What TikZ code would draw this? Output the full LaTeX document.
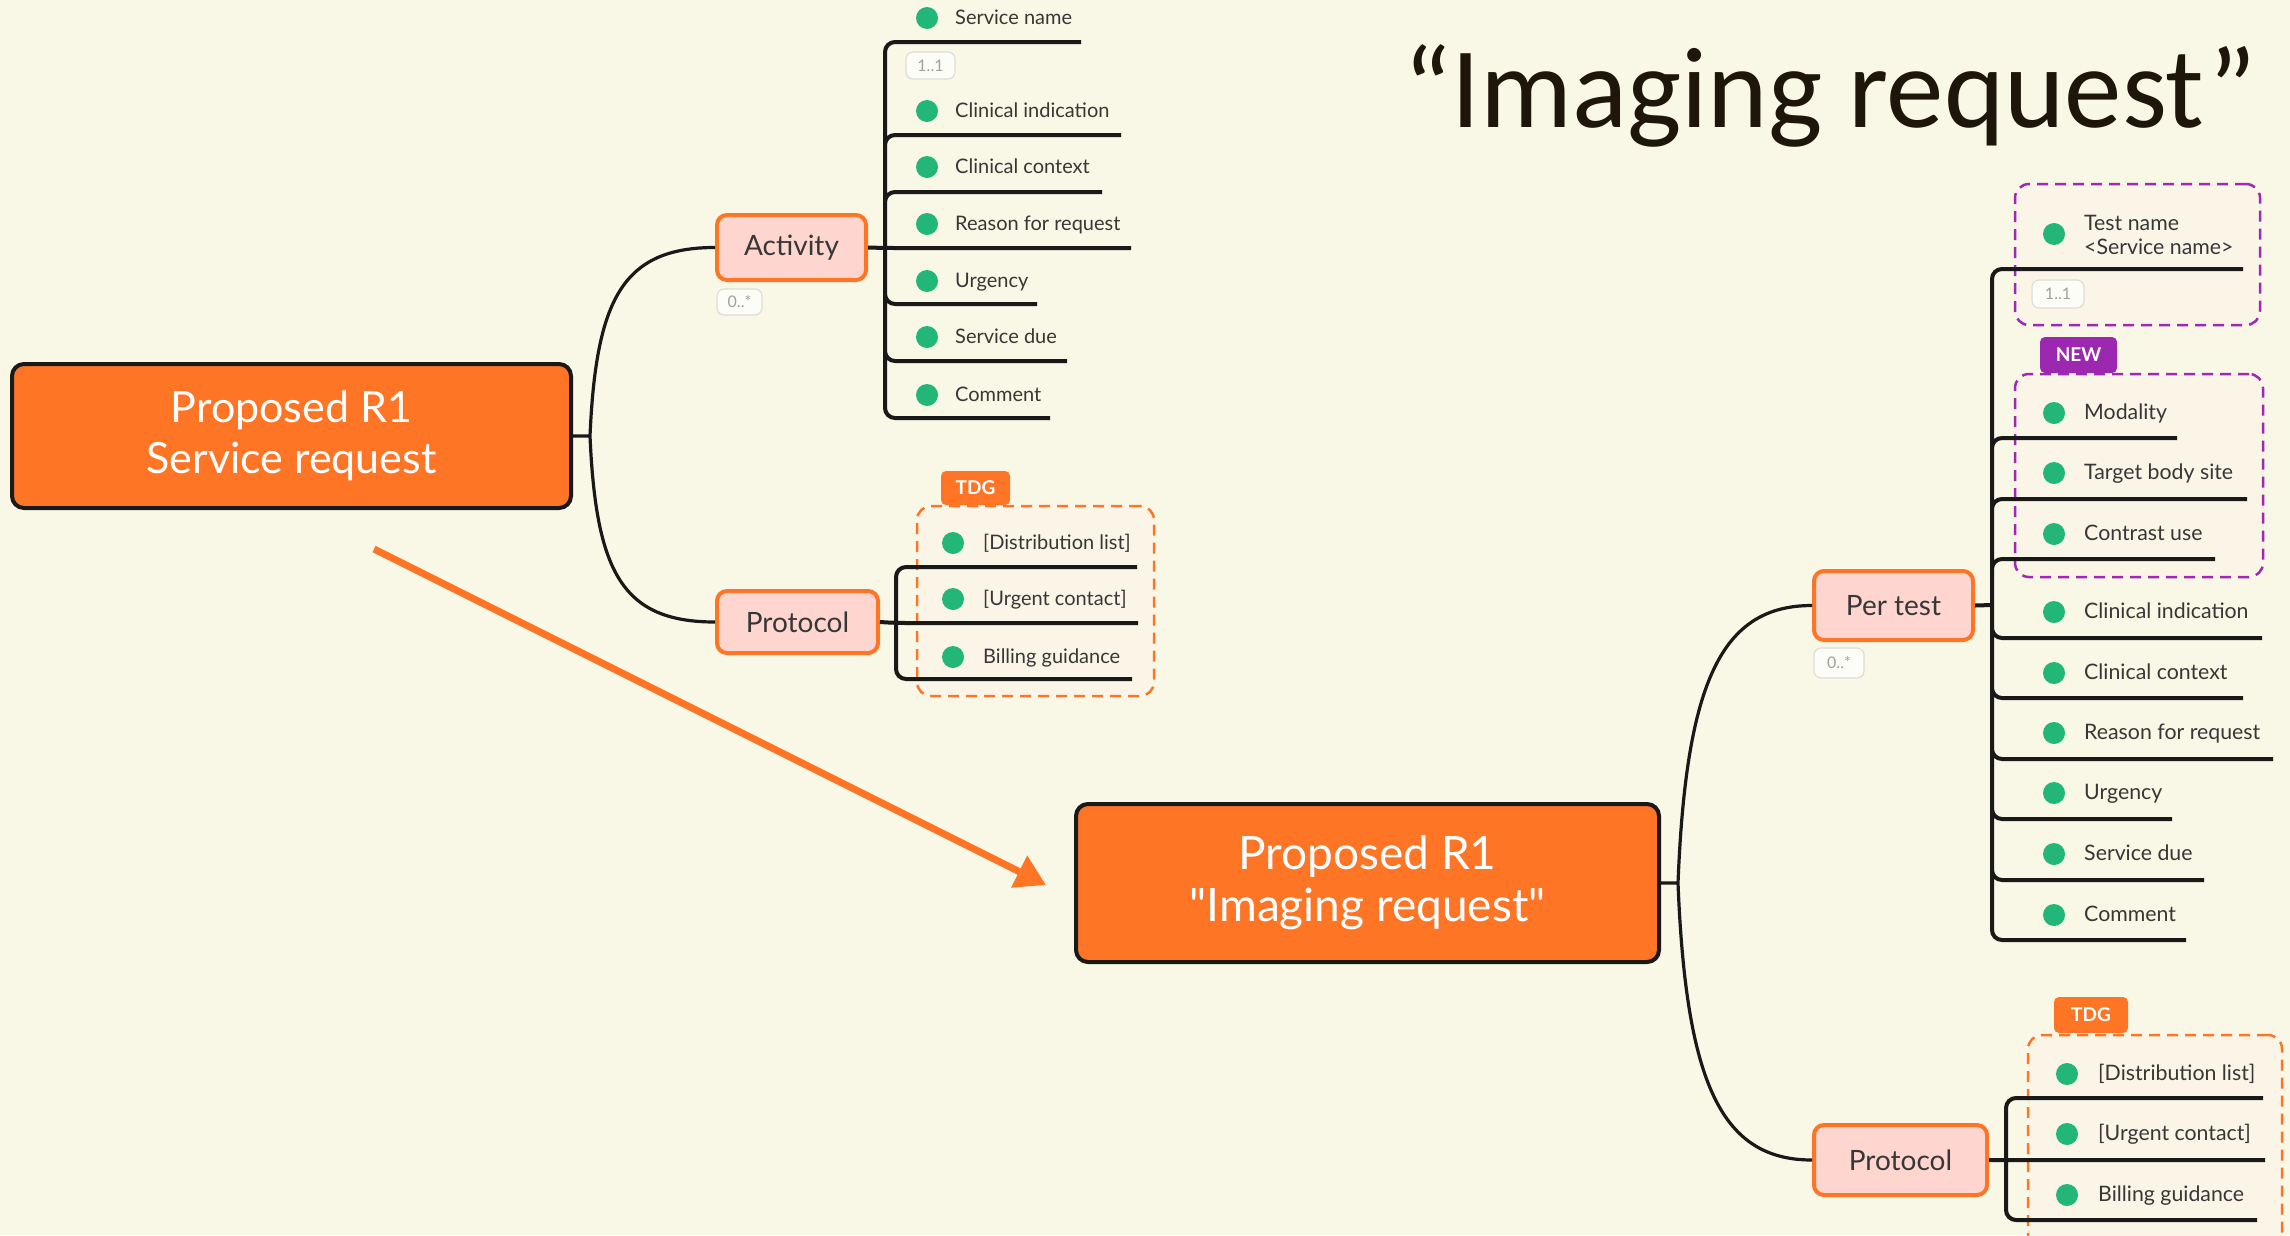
\documentclass[tikz,border=0pt]{standalone}
\usepackage{fontspec}
\setmainfont{Lato}
\newfontfamily\titlefont{Carlito}
\usetikzlibrary{arrows.meta, positioning}
\usepackage{xcolor}

\definecolor{paper}{RGB}{249,247,229}
\definecolor{ink}{RGB}{25,25,25}
\definecolor{mmorange}{RGB}{255,117,38}
\definecolor{mmpink}{RGB}{255,214,207}
\definecolor{mmgreen}{RGB}{34,183,120}
\definecolor{mmtext}{RGB}{55,55,55}
\definecolor{mmpurple}{RGB}{160,40,180}
\definecolor{newtag}{RGB}{156,39,176}
\definecolor{groupfill}{RGB}{251,245,232}
\definecolor{cardline}{RGB}{222,222,214}
\definecolor{cardfill}{RGB}{253,253,248}
\definecolor{cardtext}{RGB}{160,160,160}
\definecolor{titleink}{RGB}{30,22,10}

\begin{document}
\begin{tikzpicture}[x=1pt,y=-1pt]
                \tikzset{Root/.style={rectangle, rounded corners=12pt, draw=ink, line width=4pt, fill=mmorange, text=white, align=center, inner sep=0pt}}
                \tikzset{Topic/.style={rectangle, rounded corners=10pt, draw=mmorange, line width=4pt, fill=mmpink, text=mmtext, font=\fontsize{28}{30}\selectfont, inner sep=0pt, minimum height=66pt}}
                \tikzset{Dot/.style={circle, fill=mmgreen, minimum size=22pt, inner sep=0pt}}
                \tikzset{Item/.style={anchor=west, yshift=-3.5pt, text=mmtext, inner sep=0pt, text height=0.75em, text depth=0.22em, font=\fontsize{20}{23}\selectfont}}
                \tikzset{ItemR/.style={Item, font=\fontsize{21.3}{24}\selectfont}}
                \tikzset{Card/.style={rectangle, rounded corners=7pt, draw=cardline, line width=1.2pt, fill=cardfill, text=cardtext, font=\fontsize{16}{16}\selectfont, inner sep=0pt}}
                \tikzset{Tag/.style={rectangle, rounded corners=5pt, text=white, font=\bfseries\fontsize{19}{19}\selectfont, inner sep=0pt}}
                \tikzset{Group/.style={rectangle, rounded corners=14pt, fill=groupfill, line width=2.5pt, dash pattern=on 11pt off 7pt}}
                \tikzset{Branch/.style={draw=ink, line width=4pt, rounded corners=10pt}}
                \tikzset{Curve/.style={draw=ink, line width=3.2pt}}
                \tikzset{Pointer/.style={draw=mmorange, line width=7pt, -{Triangle[length=30pt,width=34pt]}}}

                \useasboundingbox (0,0) rectangle (2290,1235);
                \fill[paper] (0,0) rectangle (2290,1235);

                % dashed groups and their tags
                \node[Group, draw=mmorange, minimum width=237pt, minimum height=190pt](pBox) at (1035.5,601) {};
                \node[Group, draw=mmpurple, minimum width=245pt, minimum height=141pt](nBox1) at (2137.5,254.5) {};
                \node[Group, draw=mmpurple, minimum width=248pt, minimum height=203pt](nBox2) at (2139,475.5) {};
                \node[Group, draw=mmorange, minimum width=254pt, minimum height=230pt](rBox) at (2155,1150) {};
                \node[Tag, fill=mmorange, minimum width=69pt, minimum height=34pt](TDG1) at (975.5,488) {TDG};
                \node[Tag, fill=newtag, minimum width=77pt, minimum height=36pt](NEW) at (2078.5,355) {NEW};
                \node[Tag, fill=mmorange, minimum width=74pt, minimum height=36pt](TDG2) at (2091,1015) {TDG};

                % main nodes
                \node[Root, minimum width=559pt, minimum height=144pt, font=\fontsize{43}{51}\selectfont](R1) at (291.5,436) {Proposed R1\\Service request};
                \node[Root, minimum width=583pt, minimum height=158pt, font=\fontsize{46}{52}\selectfont](R2) at (1367.5,883) {Proposed R1\\\textquotedbl Imaging request\textquotedbl};
                \node[Topic, minimum width=149pt, minimum height=65pt](Act) at (791.5,247.5) {Activity};
                \node[Topic, minimum width=161pt, minimum height=62pt](ProtL) at (797.5,622) {Protocol};
                \node[Topic, minimum width=159pt, minimum height=69pt](Per) at (1893.5,605.5) {Per test};
                \node[Topic, minimum width=173pt, minimum height=70pt](ProtR) at (1900.5,1160) {Protocol};

                \node[Card, minimum width=45pt, minimum height=26pt](cAct) at (739.5,302) {0..*};
                \node[Card, minimum width=50pt, minimum height=30pt](cPer) at (1839,663) {0..*};
                \node[Card, minimum width=49pt, minimum height=27pt](cSN) at (930.5,65.5) {1..1};
                \node[Card, minimum width=52pt, minimum height=28pt](cTN) at (2058,294) {1..1};

                % items of Activity
                \node[Dot](aSNd) at (927,18) {}; \node[Item](aSN) at (955,18) {Service name}; \coordinate (aSNu) at (1081,42);
                \node[Dot](aCId) at (927,111) {}; \node[Item](aCI) at (955,111) {Clinical indication}; \coordinate (aCIu) at (1121,135);
                \node[Dot](aCCd) at (927,167) {}; \node[Item](aCC) at (955,167) {Clinical context}; \coordinate (aCCu) at (1102,192);
                \node[Dot](aRRd) at (927,224) {}; \node[Item](aRR) at (955,224) {Reason for request}; \coordinate (aRRu) at (1131,248);
                \node[Dot](aURd) at (927,281) {}; \node[Item](aUR) at (955,281) {Urgency}; \coordinate (aURu) at (1037,304);
                \node[Dot](aSDd) at (927,337) {}; \node[Item](aSD) at (955,337) {Service due}; \coordinate (aSDu) at (1067,361);
                \node[Dot](aCMd) at (927,395) {}; \node[Item](aCM) at (955,395) {Comment}; \coordinate (aCMu) at (1050,418);

                % items of Protocol (left)
                \node[Dot](pDLd) at (953,543) {}; \node[Item](pDL) at (983,543) {[Distribution list]}; \coordinate (pDLu) at (1137,567);
                \node[Dot](pUCd) at (953,599) {}; \node[Item](pUC) at (983,599) {[Urgent contact]}; \coordinate (pUCu) at (1138,623);
                \node[Dot](pBGd) at (953,657) {}; \node[Item](pBG) at (983,657) {Billing guidance}; \coordinate (pBGu) at (1132,679);

                % items of Per test
                \node[Dot](tTNd) at (2054,234) {}; \node[ItemR, align=left, text height=, text depth=](tTN) at (2084,231.5) {Test name\\<Service name>}; \coordinate (tTNu) at (2243,269);
                \node[Dot](tMOd) at (2054,413) {}; \node[ItemR](tMO) at (2084,413) {Modality}; \coordinate (tMOu) at (2177,438);
                \node[Dot](tBSd) at (2054,473) {}; \node[ItemR](tBS) at (2084,473) {Target body site}; \coordinate (tBSu) at (2247,499);
                \node[Dot](tCUd) at (2054,534) {}; \node[ItemR](tCU) at (2084,534) {Contrast use}; \coordinate (tCUu) at (2215,559);
                \node[Dot](tCId) at (2054,612) {}; \node[ItemR](tCI) at (2084,612) {Clinical indication}; \coordinate (tCIu) at (2262,638);
                \node[Dot](tCCd) at (2054,673) {}; \node[ItemR](tCC) at (2084,673) {Clinical context}; \coordinate (tCCu) at (2243,698);
                \node[Dot](tRRd) at (2054,733) {}; \node[ItemR](tRR) at (2084,733) {Reason for request}; \coordinate (tRRu) at (2273,759);
                \node[Dot](tURd) at (2054,793) {}; \node[ItemR](tUR) at (2084,793) {Urgency}; \coordinate (tURu) at (2172,819);
                \node[Dot](tSDd) at (2054,854) {}; \node[ItemR](tSD) at (2084,854) {Service due}; \coordinate (tSDu) at (2204,880);
                \node[Dot](tCMd) at (2054,915) {}; \node[ItemR](tCM) at (2084,915) {Comment}; \coordinate (tCMu) at (2186,940);

                % items of Protocol (right)
                \node[Dot](rDLd) at (2067,1074) {}; \node[ItemR](rDL) at (2098,1074) {[Distribution list]}; \coordinate (rDLu) at (2263,1098);
                \node[Dot](rUCd) at (2067,1134) {}; \node[ItemR](rUC) at (2098,1134) {[Urgent contact]}; \coordinate (rUCu) at (2265,1160);
                \node[Dot](rBGd) at (2067,1195) {}; \node[ItemR](rBG) at (2098,1195) {Billing guidance}; \coordinate (rBGu) at (2257,1220);

                % joints
                \coordinate (R1j) at (590,436);
                \coordinate (R2j) at (1678,883);
                \coordinate (ActJ) at (885,248);
                \coordinate (ProtLJ) at (896,623);
                \coordinate (PerJ) at (1992,605);
                \coordinate (ProtRJ) at (2006,1160);

                \draw[Curve]
                    (R1.east) -- (R1j) .. controls (596,300) and (622,247.5) .. (Act.west)
                    (R1j) .. controls (596,572) and (622,622) .. (ProtL.west)
                    (R2.east) -- (R2j) .. controls (1686,680) and (1722,605.5) .. (Per.west)
                    (R2j) .. controls (1686,1085) and (1722,1160) .. (ProtR.west)
                ;

                \draw[Branch]
                    (Act.east) -- (ActJ) -- (aRRu)
                    (ActJ) |- (aSNu) (ActJ) |- (aCIu) (ActJ) |- (aCCu)
                    (ActJ) |- (aURu) (ActJ) |- (aSDu) (ActJ) |- (aCMu)
                ;
                \draw[Branch]
                    (ProtL.east) -- (ProtLJ) -- (pUCu)
                    (ProtLJ) |- (pDLu) (ProtLJ) |- (pBGu)
                ;
                \draw[Branch]
                    (Per.east) -- (PerJ)
                    (PerJ) |- (tTNu) (PerJ) |- (tMOu) (PerJ) |- (tBSu) (PerJ) |- (tCUu) (PerJ) |- (tCIu)
                    (PerJ) |- (tCCu) (PerJ) |- (tRRu) (PerJ) |- (tURu) (PerJ) |- (tSDu) (PerJ) |- (tCMu)
                ;
                \draw[Branch]
                    (ProtR.east) -- (ProtRJ) -- (rUCu)
                    (ProtRJ) |- (rDLu) (ProtRJ) |- (rBGu)
                ;

                % arrow from the old to the new request
                \coordinate (ArrTail) at (374,549);
                \coordinate (ArrHead) at (1046,885);
                \draw[Pointer] (ArrTail) -- (ArrHead);

                \node[anchor=base west, inner sep=0pt, text=titleink, font=\titlefont\fontsize{115}{120}\selectfont](Title) at (1403,127) {“Imaging request”};
            \end{tikzpicture}
\end{document}
